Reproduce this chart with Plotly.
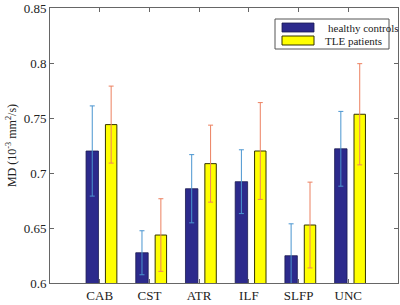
import plotly.graph_objects as go

categories = ["CAB", "CST", "ATR", "ILF", "SLFP", "UNC"]
controls_mean = [0.720, 0.6275, 0.6857, 0.6921, 0.6248, 0.7220]
controls_err = [0.041, 0.020, 0.031, 0.029, 0.029, 0.034]
tle_mean = [0.744, 0.6436, 0.7085, 0.7200, 0.6527, 0.7534]
tle_err = [0.035, 0.033, 0.035, 0.044, 0.039, 0.046]
series_names = ["healthy controls", "TLE patients"]

pos = list(range(1, len(categories) + 1))
blue = "#2C2A8C"
yellow = "#FFFF00"
font_family = "Liberation Serif"

fig = go.Figure()
fig.add_trace(go.Bar(
    x=[p - 0.15 for p in pos], y=controls_mean, width=0.25,
    name=series_names[0], marker=dict(color=blue, line=dict(color="#1a1a50", width=0.8)),
    error_y=dict(type="data", array=controls_err, visible=True, color="#4A95D0", thickness=1, width=2.5),
    showlegend=False,
))
fig.add_trace(go.Bar(
    x=[p + 0.23 for p in pos], y=tle_mean, width=0.23,
    name=series_names[1], marker=dict(color=yellow, line=dict(color="#333300", width=1)),
    error_y=dict(type="data", array=tle_err, visible=True, color="#EC8060", thickness=1, width=2.5),
    showlegend=False,
))

# custom legend (box + swatches + labels)
fig.add_shape(type="rect", xref="paper", yref="paper", x0=(275-50)/348, x1=(389-50)/348,
              y0=(283-49)/275, y1=(283-19)/275, line=dict(color="#555", width=1), fillcolor="white")
fig.add_shape(type="rect", xref="paper", yref="paper", x0=(282-50)/348, x1=(314-50)/348,
              y0=(283-32)/275, y1=(283-23)/275, line=dict(color="#1a1a50", width=0.8), fillcolor=blue)
fig.add_shape(type="rect", xref="paper", yref="paper", x0=(282-50)/348, x1=(314-50)/348,
              y0=(283-45)/275, y1=(283-36)/275, line=dict(color="#333300", width=1), fillcolor=yellow)
fig.add_annotation(xref="paper", yref="paper", x=(326-50)/348, y=(283-27.5)/275, text=series_names[0],
                   showarrow=False, xanchor="left", yanchor="middle",
                   font=dict(family=font_family, size=11, color="#222"))
fig.add_annotation(xref="paper", yref="paper", x=(323-50)/348, y=(283-41)/275, text=series_names[1],
                   showarrow=False, xanchor="left", yanchor="middle",
                   font=dict(family=font_family, size=11, color="#222"))

axis_common = dict(showline=True, linecolor="#666", linewidth=1, mirror="ticks",
                   ticks="inside", ticklen=4, tickcolor="#666", showgrid=False, zeroline=False)
fig.update_xaxes(range=[0, 7], tickvals=pos, ticktext=categories, **axis_common)
fig.update_yaxes(range=[0.6, 0.85], tickvals=[0.6, 0.65, 0.7, 0.75, 0.8, 0.85],
                 ticktext=["0.6", "0.65", "0.7", "0.75", "0.8", "0.85"],
                 title=dict(text="MD (10<sup>-3</sup> mm<sup>2</sup>/s)", standoff=4,
                            font=dict(family=font_family, size=12, color="#222")),
                 **axis_common)

fig.update_layout(
    width=400, height=305, margin=dict(l=50, r=2, t=8, b=22),
    plot_bgcolor="white", paper_bgcolor="white", barmode="overlay",
    font=dict(family=font_family, size=13, color="#222"),
)

fig.write_html("out.html", config={"displayModeBar": False})
with open("out.html", encoding="utf-8") as f:
    html = f.read()
html = html.replace("<head>", "<head><style>html,body{margin:0;padding:0;overflow:hidden;}</style>", 1)
with open("out.html", "w", encoding="utf-8") as f:
    f.write(html)
